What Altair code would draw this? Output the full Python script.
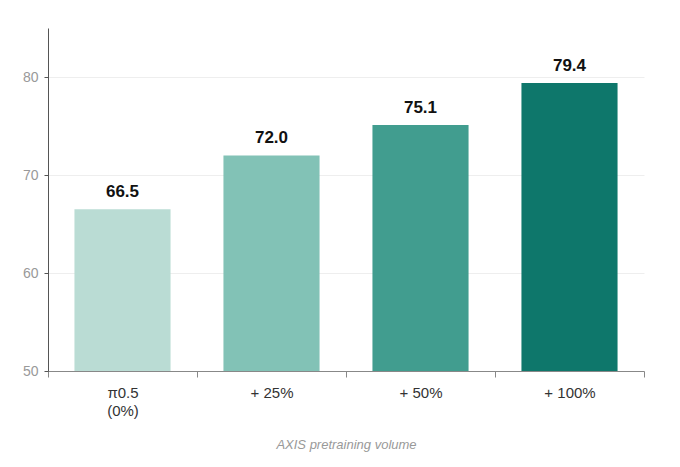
import altair as alt
import pandas as pd

categories = ["π0.5\n(0%)", "+ 25%", "+ 50%", "+ 100%"]
values = [66.5, 72.0, 75.1, 79.4]
colors = ["#badcd4", "#82c2b6", "#419d8f", "#0e776b"]

df = pd.DataFrame({"cat": categories, "val": values, "color": colors,
                   "label": [f"{v:.1f}" for v in values]})

x = alt.X("cat:N", sort=categories, title="AXIS pretraining volume",
          scale=alt.Scale(paddingInner=0, paddingOuter=0),
          axis=alt.Axis(labelAngle=0, tickBand="extent", labelExpr="split(datum.label, '\\n')",
                        labelFontSize=15, labelColor="#333", labelFont="Liberation Sans",
                        labelPadding=8, domainColor="#888", tickColor="#888", tickSize=6,
                        labelLineHeight=18,
                        titleFontStyle="italic", titleFontWeight="normal", titleColor="#999",
                        titleFontSize=13, titleFont="Liberation Sans", titlePadding=20))
y = alt.Y("val:Q", title=None,
          scale=alt.Scale(domain=[50, 85], nice=False, zero=False),
          axis=alt.Axis(values=[50, 60, 70, 80], labelColor="#999", labelFontSize=14,
                        labelFont="Liberation Sans", domainColor="#555", tickColor="#555",
                        tickSize=4, labelPadding=6, gridColor="#eeeeee", grid=True))

bars = alt.Chart(df).mark_bar(clip=True, width={"band": 0.645}).encode(
    x=x, y=y, y2=alt.datum(50), color=alt.Color("color:N", scale=None))
text = alt.Chart(df).mark_text(baseline="bottom", dy=-8, fontSize=17, fontWeight="bold",
                               font="Liberation Sans", color="#111").encode(
    x=alt.X("cat:N", sort=categories), y="val:Q", text="label:N")

chart = alt.layer(bars, text).properties(
    width=596, height=343,
    padding={"left": 40, "top": 20, "right": 10, "bottom": 100},
    autosize=alt.AutoSizeParams(type="none"),
).configure_view(stroke=None)

chart.save("out.html", embed_options={"renderer": "svg", "actions": False})
